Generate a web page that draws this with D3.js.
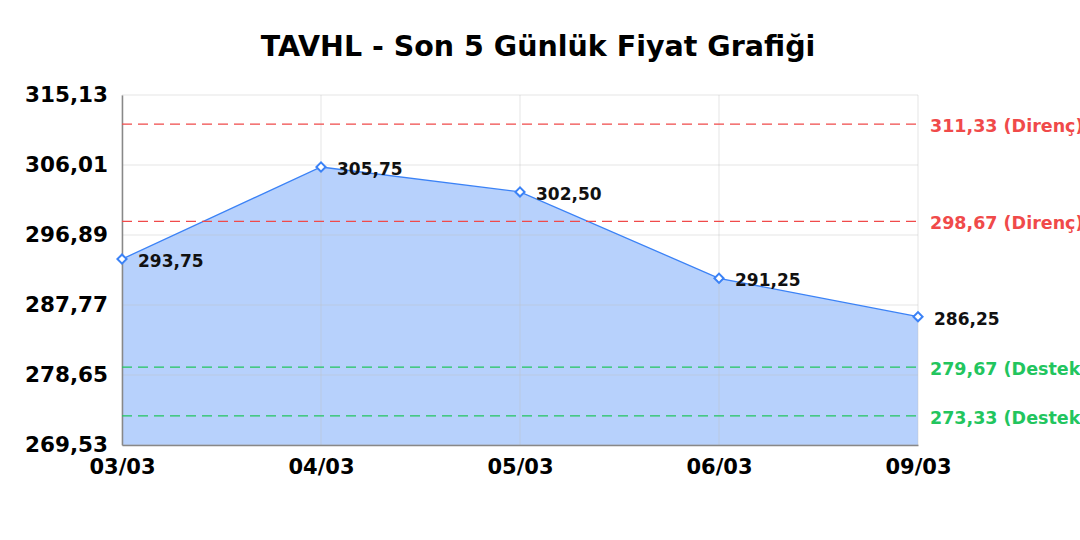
<!DOCTYPE html>
<html>
<head>
<meta charset="utf-8">
<script src="https://cdn.jsdelivr.net/npm/d3@7"></script>
<style>
  html, body { margin: 0; padding: 0; background: #ffffff; }
  svg { display: block; font-family: "DejaVu Sans", sans-serif; }
</style>
</head>
<body>
<svg id="chart" width="1080" height="540"></svg>
<script>
const title = "TAVHL - Son 5 Günlük Fiyat Grafiği";
const dates = ["03/03", "04/03", "05/03", "06/03", "09/03"];
const prices = [293.75, 305.75, 302.50, 291.25, 286.25];
const yTicks = [269.53, 278.65, 287.77, 296.89, 306.01, 315.13];
const resistanceLevels = [311.33, 298.67];
const supportLevels = [279.67, 273.33];

const fmt = v => v.toFixed(2).replace(".", ",");

const margin = { left: 122, right: 162, top: 95, bottom: 95 };
const W = 1080, H = 540;
const svg = d3.select("#chart");

const x = d3.scalePoint().domain(dates).range([margin.left, W - margin.right]);
const y = d3.scaleLinear().domain([yTicks[0], yTicks[yTicks.length - 1]]).range([H - margin.bottom, margin.top]);

// title
svg.append("text")
  .attr("x", 538).attr("y", 56)
  .attr("text-anchor", "middle")
  .attr("font-size", 28.5).attr("font-weight", "bold").attr("fill", "#000")
  .text(title);

// grid
const grid = svg.append("g");
grid.selectAll("line.h").data(yTicks).join("line")
  .attr("x1", margin.left).attr("x2", W - margin.right)
  .attr("y1", d => y(d)).attr("y2", d => y(d));
grid.selectAll("line.v").data(dates).join("line")
  .attr("x1", d => x(d)).attr("x2", d => x(d))
  .attr("y1", margin.top).attr("y2", H - margin.bottom);

// area
const area = d3.area()
  .x((d, i) => x(dates[i]))
  .y0(y(yTicks[0]))
  .y1(d => y(d));
svg.append("path").datum(prices)
  .attr("d", area)
  .attr("fill", "rgba(59,130,246,0.37)");

grid.raise();
grid.selectAll("line").attr("stroke", "rgba(190,190,190,0.4)").attr("stroke-width", 1);

// line
const line = d3.line().x((d, i) => x(dates[i])).y(d => y(d));
svg.append("path").datum(prices)
  .attr("d", line)
  .attr("fill", "none").attr("stroke", "#3b82f6").attr("stroke-width", 1.3);

// axes
const yAxis = d3.axisLeft(y).tickValues(yTicks).tickFormat(fmt).tickSize(0).tickPadding(14);
const gy = svg.append("g").attr("transform", `translate(${margin.left},0)`).call(yAxis);
gy.select(".domain").attr("stroke", "#888").attr("stroke-width", 1.5);
gy.selectAll("text").attr("font-size", 21.5).attr("font-weight", "bold").attr("fill", "#000")
  .attr("font-family", "DejaVu Sans");

const xAxis = d3.axisBottom(x).tickSize(0).tickPadding(14);
const gx = svg.append("g").attr("transform", `translate(0,${H - margin.bottom})`).call(xAxis);
gx.select(".domain").attr("stroke", "#888").attr("stroke-width", 1.5);
gx.selectAll("text").attr("font-size", 21).attr("font-weight", "bold").attr("fill", "#000")
  .attr("font-family", "DejaVu Sans");

// reference lines
const refs = resistanceLevels.map(v => ({ v, label: fmt(v) + " (Direnç)", color: "#f04a4a" }))
  .concat(supportLevels.map(v => ({ v, label: fmt(v) + " (Destek)", color: "#22c55e" })));
const rg = svg.append("g");
rg.selectAll("line").data(refs).join("line")
  .attr("x1", margin.left).attr("x2", W - margin.right)
  .attr("y1", d => y(d.v)).attr("y2", d => y(d.v))
  .attr("stroke", d => d.color).attr("stroke-width", 1.3)
  .attr("stroke-dasharray", "10,6");
rg.selectAll("text").data(refs).join("text")
  .attr("x", W - margin.right + 12).attr("y", d => y(d.v) + 8)
  .attr("font-size", 17.5).attr("font-weight", "bold")
  .attr("fill", d => d.color)
  .text(d => d.label);

// markers
const sym = d3.symbol().type(d3.symbolSquare).size(42);
svg.selectAll("path.m").data(prices).join("path")
  .attr("class", "m")
  .attr("d", sym)
  .attr("transform", (d, i) => `translate(${x(dates[i])},${y(d)}) rotate(45)`)
  .attr("fill", "#fff").attr("stroke", "#3b82f6").attr("stroke-width", 2);

// point labels
svg.selectAll("text.pl").data(prices).join("text")
  .attr("class", "pl")
  .attr("x", (d, i) => x(dates[i]) + 16)
  .attr("y", d => y(d) + 8)
  .attr("font-size", 17).attr("font-weight", "bold").attr("fill", "#111")
  .text(d => fmt(d));
</script>
</body>
</html>
